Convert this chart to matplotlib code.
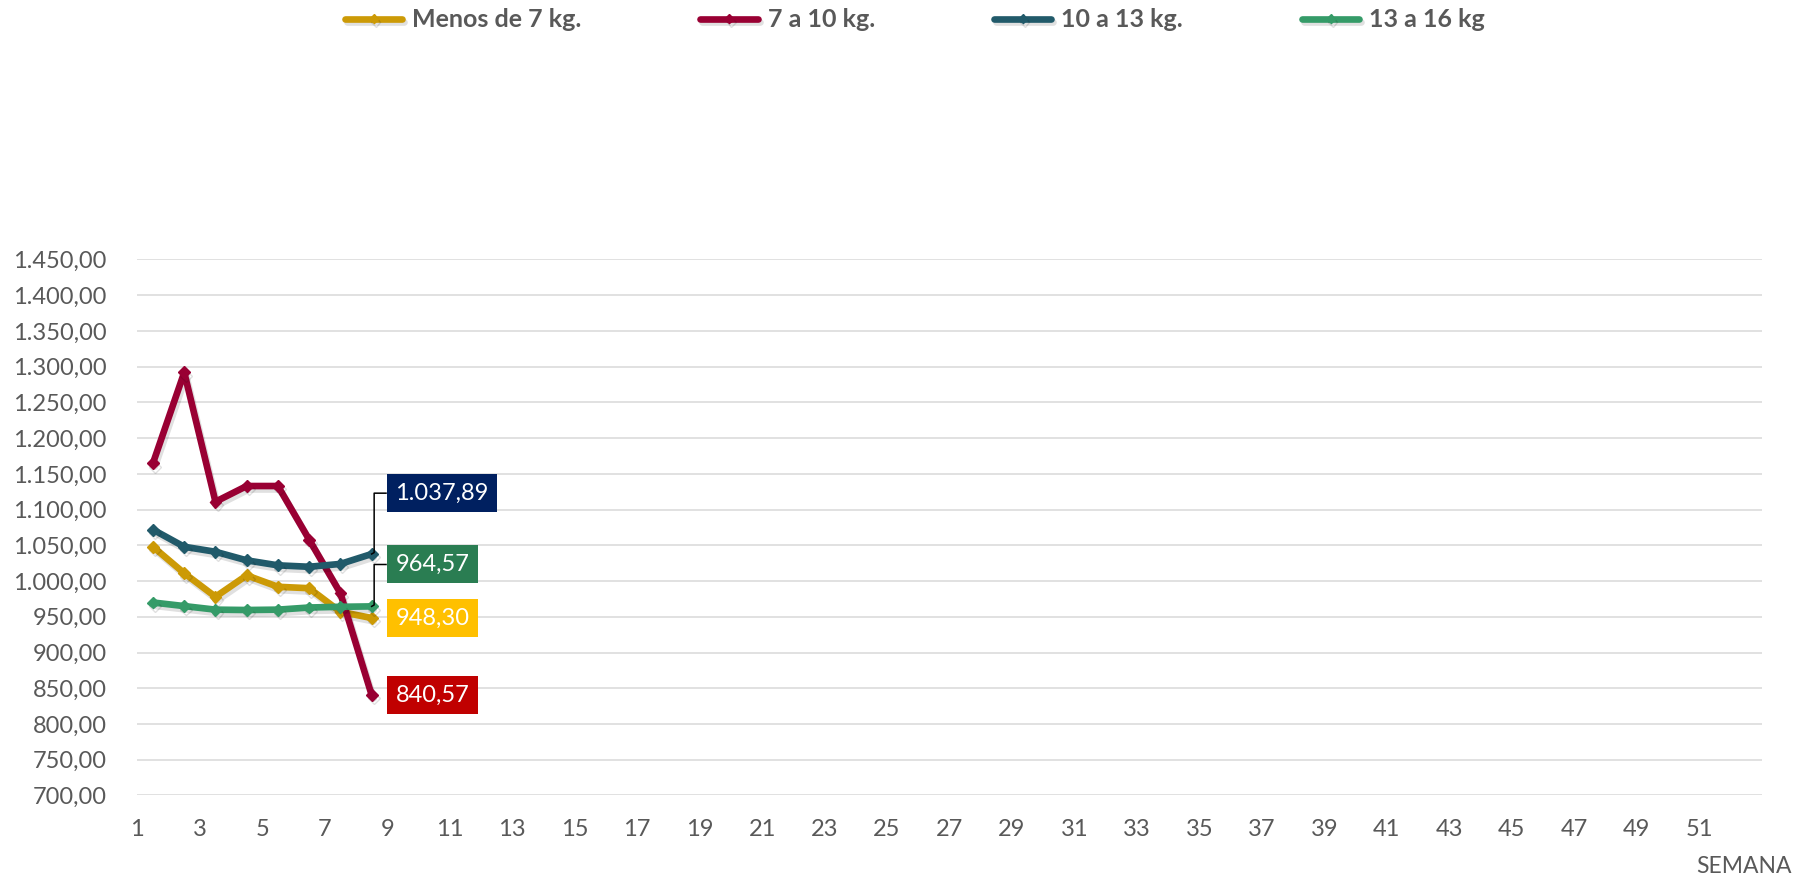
import matplotlib
matplotlib.use("Agg")
import matplotlib.pyplot as plt
import matplotlib.patheffects as pe
from matplotlib.ticker import FuncFormatter

plt.rcParams['font.family'] = ['Lato', 'DejaVu Sans']

# weekly price per weight class
semanas = [1, 2, 3, 4, 5, 6, 7, 8]
menos_7 = [1048, 1011, 978, 1008, 992, 990, 957, 948.30]
de_7_10 = [1165, 1292, 1111, 1133, 1133, 1058, 983, 840.57]
de_10_13 = [1072, 1048, 1041, 1029, 1022, 1020, 1024, 1037.89]
de_13_16 = [970, 965, 960, 959.5, 960, 963, 964, 964.57]

series_names = ["Menos de 7 kg.", "7 a 10 kg.", "10 a 13 kg.", "13 a 16 kg"]
line_colors = ["#CC9A06", "#990033", "#215A6A", "#359B68"]
box_colors = ["#FFC000", "#C00000", "#002060", "#2A7D52"]

tick_weeks = list(range(1, 52, 2))
y_ticks = list(range(700, 1451, 50))
grey = "#595959"


def es_format(v, pos=None):
    s = "{:,.2f}".format(v)
    return s.replace(",", "X").replace(".", ",").replace("X", ".")


fig = plt.figure(figsize=(18.10, 8.88), dpi=100)
ax = fig.add_axes([0.0759, 0.1042, 0.8974, 0.6036])

all_series = [menos_7, de_7_10, de_10_13, de_13_16]
shadow = [pe.SimpleLineShadow(offset=(1.5, -2.5), shadow_color="#000000", alpha=0.12),
          pe.Normal()]
for vals, name, col in zip(all_series, series_names, line_colors):
    ax.plot(semanas, vals, color=col, lw=4.8, marker="D", markersize=6,
            solid_joinstyle="round", solid_capstyle="round",
            label=name, zorder=3, path_effects=shadow)

# data labels for the last week; (label y, needs leader line)
label_y = [947.7, 840.0, 1123.0, 1023.2]
leader = [False, False, True, True]
last = semanas[-1]
for vals, ly, lead, bc in zip(all_series, label_y, leader, box_colors):
    ax.text(last + 0.76, ly, es_format(vals[-1]), color="white", fontsize=17,
            ha="left", va="center", zorder=5,
            bbox=dict(boxstyle="square,pad=0.36", fc=bc, ec="none"))
    if lead:
        ax.plot([last, last + 0.08, last + 0.08, last + 0.46],
                [vals[-1], vals[-1] + 2, ly, ly],
                color="black", lw=1.1, zorder=4)

ax.set_xlim(0.5, 52.5)
ax.set_ylim(700, 1450)
ax.set_yticks(y_ticks)
ax.yaxis.set_major_formatter(FuncFormatter(es_format))
ax.set_xticks([k - 0.5 for k in tick_weeks])
ax.set_xticklabels([str(k) for k in tick_weeks])
ax.tick_params(axis="both", length=0, labelsize=17, labelcolor=grey)
ax.tick_params(axis="y", pad=22)
ax.tick_params(axis="x", pad=17)
ax.grid(axis="y", color="#D9D9D9", lw=1.1)
ax.set_axisbelow(True)
for sp in ax.spines.values():
    sp.set_visible(False)

fig.text(0.9898, 0.024, "SEMANA", ha="right", va="center", fontsize=16.5, color=grey)

fig.legend(loc="center", bbox_to_anchor=(0.5055, 0.9775), ncol=4, frameon=False,
           prop={"weight": "bold", "size": 18},
           labelcolor=grey, handlelength=2.3, handletextpad=0.4,
           columnspacing=4.75, markerscale=0.8)

fig.savefig("out.png", dpi=100)
